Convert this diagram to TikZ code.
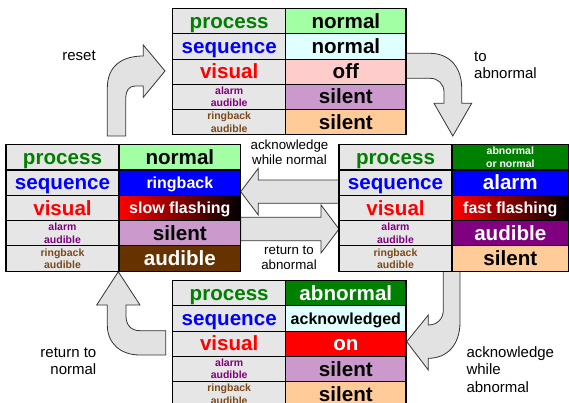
\documentclass[tikz,border=0pt]{standalone}
\usepackage{fontspec}
\setmainfont{Liberation Sans}
\definecolor{labgray}{HTML}{E6E6E6}
\definecolor{arrgray}{HTML}{E2E2E2}
\definecolor{procgreen}{HTML}{008000}
\definecolor{seqblue}{HTML}{0000FF}
\definecolor{visred}{HTML}{FF0000}
\definecolor{almpurple}{HTML}{800080}
\definecolor{rbbrown}{HTML}{7A4A1A}
\definecolor{normgreen}{HTML}{A3FFA3}
\definecolor{lcyan}{HTML}{E0FFFF}
\definecolor{offpink}{HTML}{FFCCCC}
\definecolor{silpurple}{HTML}{CC99CC}
\definecolor{silorange}{HTML}{FFCC99}
\definecolor{audbrown}{HTML}{663300}
\tikzset{
  cell/.style={draw=black, line width=1.1pt, anchor=north west, inner sep=0pt, outer sep=0pt, align=center},
  lab/.style={cell, fill=labgray, minimum width=113pt},
  big/.style={font=\fontsize{20.6}{22}\selectfont\bfseries, text height=18.5pt, text depth=4.3pt},
  med/.style={font=\fontsize{16}{17.5}\selectfont\bfseries, text height=14.4pt, text depth=3.4pt},
  sml/.style={font=\fontsize{10.5}{12.5}\selectfont\bfseries},
  flash/.style={left color=red, right color=black},
  Tval/.style={cell, minimum width=120.3pt, minimum height=25.2pt},
  Lval/.style={cell, minimum width=121.7pt, minimum height=25.3pt},
  Rval/.style={cell, minimum width=116pt, minimum height=25.3pt},
  blockarrow/.style={draw=black!80, line width=0.8pt, fill=arrgray, line join=miter},
  note/.style={font=\fontsize{15}{17.5}\selectfont, inner sep=0pt},
  mnote/.style={font=\fontsize{13.3}{15}\selectfont, inner sep=0pt, align=center},
}
\newcommand\labelcol[4]{%
  \node[lab, minimum height=#4pt, big, text=procgreen] (#1p) at (#2,#3) {process};
  \node[lab, minimum height=#4pt, big, text=seqblue] (#1s) at (#2,{#3+#4}) {sequence};
  \node[lab, minimum height=#4pt, big, text=visred] (#1v) at (#2,{#3+2*#4}) {visual};
  \node[lab, minimum height=#4pt, sml, text=almpurple] (#1a) at (#2,{#3+3*#4}) {alarm\\audible};
  \node[lab, minimum height=#4pt, sml, text=rbbrown] (#1r) at (#2,{#3+4*#4}) {ringback\\audible};
}
\begin{document}
\begin{tikzpicture}[x=1pt, y=-1pt]
\useasboundingbox (0,0) rectangle (569,403);
\clip (0,0) rectangle (569,403);
% ---- block arrows ----
% reset
\draw[blockarrow] (107.3,136) -- (107.3,88) .. controls (107.3,66) and (122,56) .. (143.3,56)
  -- (143.3,45) -- (165,71) -- (143.3,97.3) -- (143.3,86) -- (135,86)
  .. controls (129,86) and (125.7,91) .. (125.7,98) -- (125.7,136) -- cycle;
% to abnormal
\draw[blockarrow] (406,53.3) -- (430,53.3) .. controls (450,53.3) and (461.7,68) .. (461.7,88)
  -- (461.7,103.3) -- (471.7,103.3) -- (452.8,136) -- (434,103.3) -- (444,103.3) -- (444,92)
  .. controls (444,84) and (438,78.3) .. (430,78.3) -- (406,78.3) -- cycle;
% acknowledge while normal (left)
\draw[blockarrow] (339,180) -- (258.3,180) -- (258.3,168.3) -- (240.7,191.7) -- (258.3,215)
  -- (258.3,203.3) -- (339,203.3) -- cycle;
% return to abnormal (right)
\draw[blockarrow] (240.7,217.3) -- (321,217.3) -- (321,205) -- (339,229) -- (321,253)
  -- (321,240.7) -- (240.7,240.7) -- cycle;
% acknowledge while abnormal
\draw[blockarrow] (443.3,271) -- (443.3,310) .. controls (443.3,319) and (437,325) .. (428.3,325)
  -- (428.3,315) -- (406.7,341.7) -- (428.3,370) -- (428.3,358.3)
  .. controls (447,358.3) and (460,345) .. (460,322) -- (460,271) -- cycle;
% return to normal
\draw[blockarrow] (165.7,330.7) -- (140,330.7) .. controls (131,330.7) and (126,325) .. (126,316)
  -- (126,305) -- (140,305) -- (118.3,271.7) -- (96.7,305) -- (107.3,305) -- (107.3,325)
  .. controls (107.3,343) and (120,355) .. (140,355) -- (165.7,355) -- cycle;
% ---- arrow labels ----
\node[note] (lreset) at (79,56) {reset};
\node[note, anchor=west, align=left] (ltoab) at (474,65.3) {to\\abnormal};
\node[mnote] (lackn) at (289.5,152.5) {acknowledge\\while normal};
\node[mnote] (lretab) at (289,257.5) {return to\\abnormal};
\node[note, anchor=east, align=right] (lretn) at (96.5,361) {return to\\normal};
\node[note, anchor=west, align=left] (lacka) at (466.3,369.5) {acknowledge\\while\\abnormal};
% ---- top table: normal ----
\labelcol{T}{172.7}{8.7}{25.2}
\node[Tval, fill=normgreen, big] (Tpv) at (285.7,8.7) {normal};
\node[Tval, fill=lcyan, big] (Tsv) at (285.7,33.9) {normal};
\node[Tval, fill=offpink, big] (Tvv) at (285.7,59.1) {off};
\node[Tval, fill=silpurple, big] (Tav) at (285.7,84.3) {silent};
\node[Tval, fill=silorange, big] (Trv) at (285.7,109.5) {silent};
% ---- left table: ringback ----
\labelcol{L}{6}{144.7}{25.3}
\node[Lval, fill=normgreen, big] (Lpv) at (119,144.7) {normal};
\node[Lval, fill=seqblue, med, text=white] (Lsv) at (119,170) {ringback};
\node[Lval, flash, med, text=white] (Lvv) at (119,195.3) {slow flashing};
\node[Lval, fill=silpurple, big] (Lav) at (119,220.6) {silent};
\node[Lval, fill=audbrown, big, text=white] (Lrv) at (119,245.9) {audible};
% ---- right table: alarm ----
\labelcol{R}{339}{144.7}{25.3}
\node[Rval, fill=procgreen, sml, text=white] (Rpv) at (452.3,144.7) {abnormal\\or normal};
\node[Rval, fill=seqblue, big, text=white] (Rsv) at (452.3,170) {alarm};
\node[Rval, flash, med, text=white] (Rvv) at (452.3,195.3) {fast flashing};
\node[Rval, fill=almpurple, big, text=white] (Rav) at (452.3,220.6) {audible};
\node[Rval, fill=silorange, big] (Rrv) at (452.3,245.9) {silent};
% ---- bottom table: acknowledged ----
\labelcol{B}{172.7}{280.7}{25.2}
\node[Tval, fill=procgreen, big, text=white] (Bpv) at (285.7,280.7) {abnormal};
\node[Tval, fill=lcyan, med] (Bsv) at (285.7,305.9) {acknowledged};
\node[Tval, fill=visred, big, text=white] (Bvv) at (285.7,331.1) {on};
\node[Tval, fill=silpurple, big] (Bav) at (285.7,356.3) {silent};
\node[Tval, fill=silorange, big] (Brv) at (285.7,381.5) {silent};
\end{tikzpicture}
\end{document}
